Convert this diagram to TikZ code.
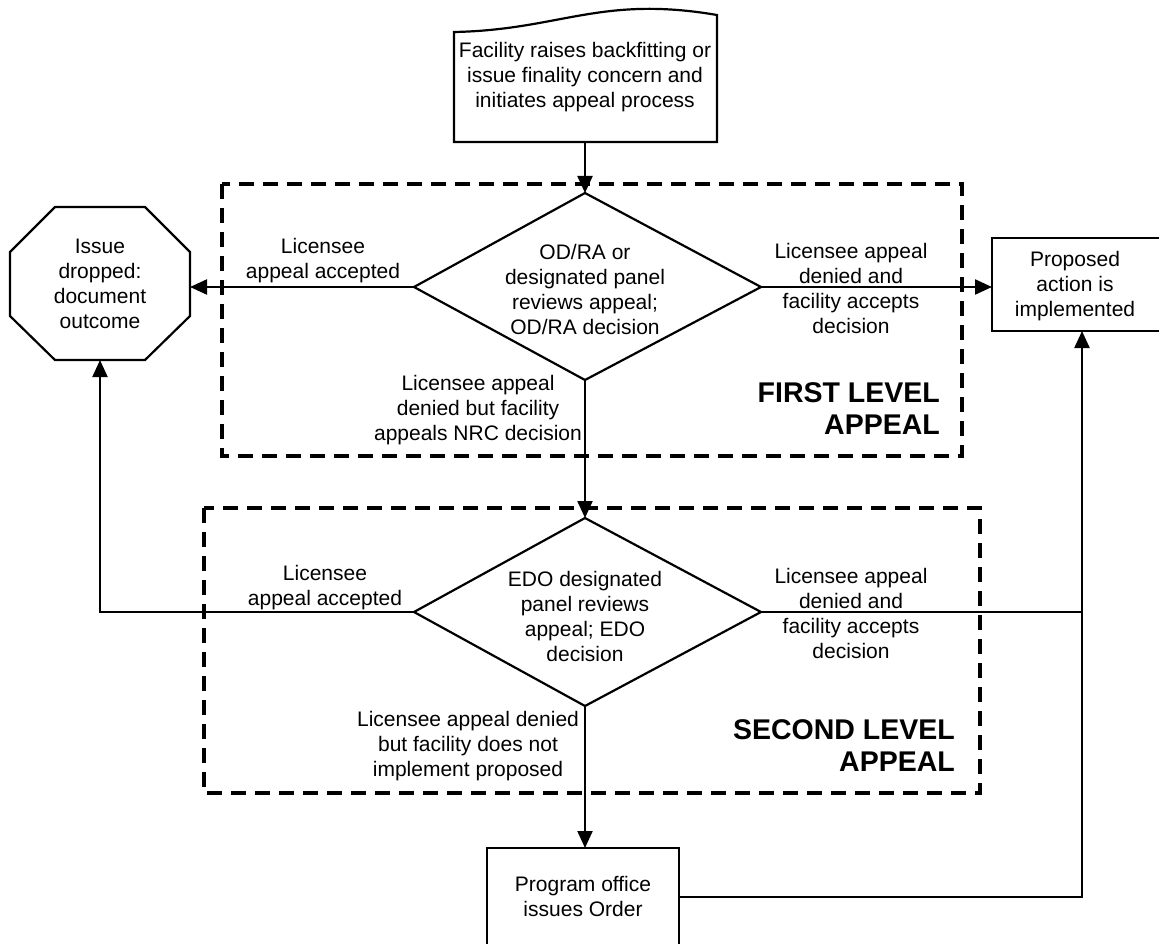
\documentclass[tikz,border=0pt]{standalone}
\usepackage{fontspec}
\setmainfont{Liberation Sans}
\usetikzlibrary{arrows.meta,shapes.geometric}
\begin{document}
\begin{tikzpicture}[x=1pt,y=-1pt,
  txt/.style={font=\fontsize{21}{25}\selectfont, align=center, inner sep=0pt},
  box/.style={draw, line width=2.2pt},
  conn/.style={line width=2.2pt},
  arr/.style={conn, -{Triangle[length=17pt,width=15pt]}},
  group/.style={draw, line width=3.5pt, dash pattern=on 15pt off 9pt},
  big/.style={font=\fontsize{28.5}{32}\selectfont\bfseries, align=right, inner sep=0pt},
]
\useasboundingbox (0,0) rectangle (1159,944);

% groups
\draw[group] (222,184) rectangle (962,456);
\draw[group] (204,508) rectangle (980,793);

% document shape
\node[txt] (doc) at (585,77) {Facility raises backfitting or\\issue finality concern and\\initiates appeal process};
\draw[box] (454,142) -- (454,32) .. controls (560,30) and (600,-5) .. (717,15) -- (717,142) -- cycle;
\coordinate (docb) at (585,142);

% diamond 1
\node[txt] (d1) at (585,289) {OD/RA or\\designated panel\\reviews appeal;\\OD/RA decision};
\coordinate (d1n) at (585,193);
\coordinate (d1e) at (761,287);
\coordinate (d1s) at (585,380);
\coordinate (d1w) at (414,287);
\draw[box] (d1n) -- (d1e) -- (d1s) -- (d1w) -- cycle;

% diamond 2
\node[txt] (d2) at (585,616) {EDO designated\\panel reviews\\appeal; EDO\\decision};
\coordinate (d2n) at (585,518);
\coordinate (d2e) at (761,612);
\coordinate (d2s) at (585,706);
\coordinate (d2w) at (414,612);
\draw[box] (d2n) -- (d2e) -- (d2s) -- (d2w) -- cycle;

% octagon
\node[txt] (oct) at (100,284) {Issue\\dropped:\\document\\outcome};
\draw[box] (55,207) -- (145,207) -- (190,252) -- (190,316) -- (145,360) -- (55,360) -- (10,316) -- (10,252) -- cycle;
\coordinate (octE) at (190,287);
\coordinate (octS) at (100,360);

% proposed action box
\draw[box] (992,238) rectangle (1165,331);
\node[txt] (prop) at (1075,286) {Proposed\\action is\\implemented};
\coordinate (propW) at (992,287);
\coordinate (propS) at (1082,331);

% program office box
\draw[box] (487,848) rectangle (679,970);
\node[txt] (prog) at (583,896) {Program office\\issues Order};
\coordinate (progN) at (585,848);
\coordinate (progE) at (679,897);
\coordinate (junc) at (1082,612);

% connectors
\draw[arr] (docb) -- (d1n);
\draw[arr] (d1w) -- (octE);
\draw[arr] (d1e) -- (propW);
\draw[arr] (d1s) -- (d2n);
\draw[arr] (d2w) -| (octS);
\draw[conn] (d2e) -- (junc);
\draw[arr] (d2s) -- (progN);
\draw[arr] (progE) -| (propS);

% labels
\node[txt] (l1) at (323,261) {Licensee\\appeal accepted};
\node[txt] (l2) at (851,288) {Licensee appeal\\denied and\\facility accepts\\decision};
\node[txt] (l3) at (478,410) {Licensee appeal\\denied but facility\\appeals NRC decision};
\node[txt] (l4) at (325,588) {Licensee\\appeal accepted};
\node[txt] (l5) at (851,613) {Licensee appeal\\denied and\\facility accepts\\decision};
\node[txt] (l6) at (468,746) {Licensee appeal denied\\but facility does not\\implement proposed};
\node[big, anchor=east] (g1) at (940,409) {FIRST LEVEL\\APPEAL};
\node[big, anchor=east] (g2) at (955,746) {SECOND LEVEL\\APPEAL};
\end{tikzpicture}
\end{document}
